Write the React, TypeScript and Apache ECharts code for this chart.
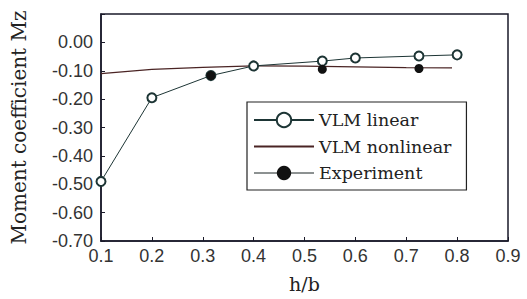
import React, { useEffect, useRef } from "react";
import * as echarts from "echarts";

const linearX = [0.1, 0.2, 0.316, 0.4, 0.535, 0.6, 0.725, 0.8];
const linearY = [-0.49, -0.195, -0.117, -0.083, -0.066, -0.055, -0.048, -0.044];
const nonlinearX = [0.1, 0.2, 0.3, 0.4, 0.5, 0.6, 0.7, 0.79];
const nonlinearY = [-0.11, -0.095, -0.088, -0.083, -0.084, -0.086, -0.089, -0.09];
const expX = [0.316, 0.535, 0.725];
const expY = [-0.117, -0.095, -0.092];
const seriesNames = ["VLM linear", "VLM nonlinear", "Experiment"];

const zip = (xs: number[], ys: number[]) => xs.map((x, i) => [x, ys[i]]);

export default function App() {
  const ref = useRef<HTMLDivElement>(null);
  useEffect(() => {
    if (!ref.current) return;
    const chart = echarts.init(ref.current, undefined, { renderer: "svg" });
    const axisColor = "#1a1a2a";
    chart.setOption({
      animation: false,
      backgroundColor: "#ffffff",
      grid: { left: 101, top: 14, right: 19, bottom: 58 },
      xAxis: {
        type: "value",
        min: 0.1,
        max: 0.9,
        interval: 0.1,
        name: "h/b",
        nameLocation: "middle",
        nameGap: 33,
        nameTextStyle: { fontFamily: "DejaVu Serif", fontSize: 19, color: "#222" },
        axisLine: { onZero: false, lineStyle: { color: axisColor, width: 1.5 } },
        axisTick: { inside: true, length: 4, lineStyle: { color: axisColor } },
        axisLabel: {
          fontFamily: "Liberation Sans",
          fontSize: 18,
          color: "#333",
          margin: 6,
          formatter: (v: number) => v.toFixed(1),
        },
        splitLine: { show: false },
      },
      yAxis: {
        type: "value",
        min: -0.7,
        max: 0.1,
        interval: 0.1,
        name: "Moment coefficient Mz",
        nameLocation: "middle",
        nameGap: 72,
        nameTextStyle: { fontFamily: "DejaVu Serif", fontSize: 20, color: "#222" },
        axisLine: { onZero: false, lineStyle: { color: axisColor, width: 1.5 } },
        axisTick: { inside: true, length: 4, lineStyle: { color: axisColor } },
        axisLabel: {
          fontFamily: "Liberation Sans",
          fontSize: 18,
          color: "#333",
          margin: 8,
          formatter: (v: number) => (v > 0.001 ? "" : v.toFixed(2)),
        },
        splitLine: { show: false },
      },
      graphic: [
        {
          type: "rect",
          shape: { x: 101, y: 14, width: 407, height: 227 },
          style: { fill: "none", stroke: axisColor, lineWidth: 1.5 },
          silent: true,
          z: -1,
        },
      ],
      legend: {
        orient: "vertical",
        left: 247,
        top: 102,
        padding: [9, 15, 8, 6],
        itemWidth: 60,
        itemHeight: 18,
        itemGap: 8.5,
        backgroundColor: "#fff",
        borderColor: "#222",
        borderWidth: 1.2,
        borderRadius: 0,
        textStyle: { fontFamily: "DejaVu Serif", fontSize: 17.5, color: "#222" },
        data: [
          { name: seriesNames[0] },
          { name: seriesNames[1], itemStyle: { opacity: 0 } },
          { name: seriesNames[2], lineStyle: { opacity: 1, width: 1, color: "#1a2424" } },
        ],
      },
      series: [
        {
          name: seriesNames[0],
          type: "line",
          data: zip(linearX, linearY),
          symbol: "emptyCircle",
          symbolSize: 9,
          lineStyle: { color: "#1d3535", width: 1 },
          itemStyle: { color: "#1d3535", borderWidth: 1.2 },
          z: 3,
        },
        {
          name: seriesNames[1],
          type: "line",
          data: zip(nonlinearX, nonlinearY),
          symbol: "none",
          lineStyle: { color: "#4a2424", width: 1.2 },
          itemStyle: { color: "#4a2424" },
          z: 2,
        },
        {
          name: seriesNames[2],
          type: "line",
          data: zip(expX, expY),
          symbol: "circle",
          symbolSize: 9,
          lineStyle: { color: "#1a2424", width: 1, opacity: 0 },
          itemStyle: { color: "#111" },
          z: 4,
        },
      ],
    });
    return () => chart.dispose();
  }, []);
  return <div ref={ref} style={{ width: 527, height: 299, position: "absolute", left: 0, top: 0 }} />;
}
